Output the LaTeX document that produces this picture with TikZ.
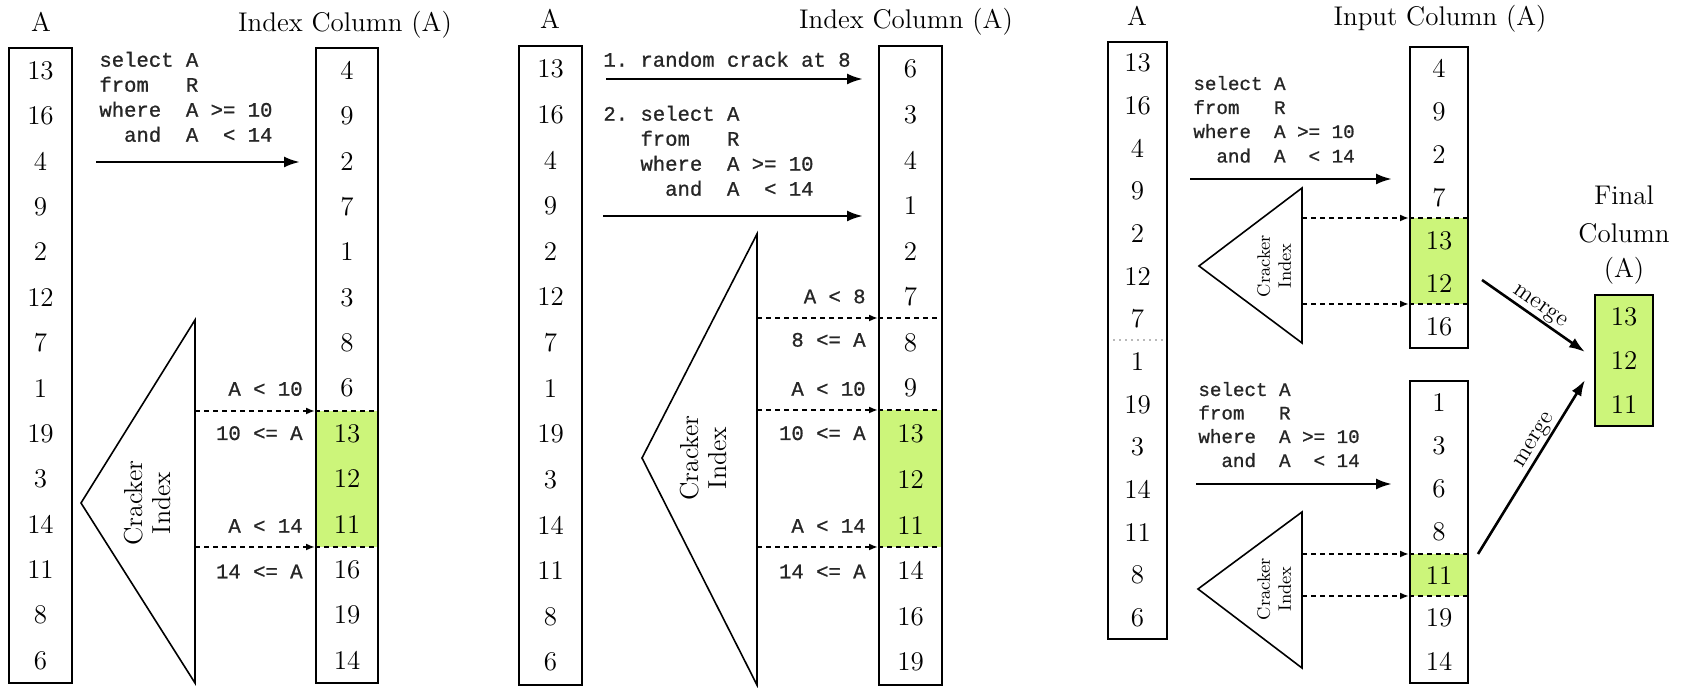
\documentclass[tikz,border=0pt]{standalone}
\usepackage{fontspec}
\newfontfamily\cour[FakeBold=0.9]{Liberation Mono}
\usetikzlibrary{arrows.meta}
\newcommand{\Sp}{\hbox to 0.6em{}}
\definecolor{hl}{HTML}{CCF57A}
\tikzset{
  col/.style={draw, line width=1pt, inner sep=0pt},
  num/.style={font=\fontsize{13.5}{16}\selectfont, inner sep=0pt},
  ttl/.style={font=\fontsize{13.5}{16}\selectfont, inner sep=0pt, anchor=base},
  sql/.style={font=\cour\fontsize{10.3}{12}\selectfont, text=black!85, anchor=base west, inner sep=0pt},
  sqls/.style={font=\cour\fontsize{9.6}{12}\selectfont, text=black!85, anchor=base west, inner sep=0pt},
  lbl/.style={font=\cour\fontsize{10.3}{12}\selectfont, text=black!85, anchor=base east, inner sep=0pt},
  arr/.style={line width=1.3pt, -{Latex[length=8pt,width=5.5pt]}},
  darr/.style={line width=0.9pt, dash pattern=on 2.5pt off 2pt, -{Latex[length=4.5pt,width=3.5pt]}},
  dline/.style={line width=0.9pt, dash pattern=on 2.5pt off 2pt},
  tri/.style={line width=0.8pt},
  crk/.style={rotate=90, align=center, inner sep=0pt, font=\fontsize{13}{14}\selectfont},
  crks/.style={rotate=90, align=center, inner sep=0pt, font=\fontsize{9}{10.5}\selectfont},
  mrg/.style={font=\fontsize{12}{14}\selectfont, inner sep=0.5pt, sloped},
}
\begin{document}
\begin{tikzpicture}[x=0.5pt,y=-0.5pt]
\useasboundingbox (0,0) rectangle (1683,688);

%% ================= Panel 1 =================
\node[ttl] (p1t) at (41,31.7) {A};
\node[ttl] (p1ti) at (345,31.7) {Index Column (A)};
\fill[hl] (316,411) rectangle (378,547);
\node[col, minimum width=31.5pt, minimum height=317.65pt] (p1a) at (40.5,365.35) {};
\foreach \v [count=\i from 0] in {13,16,4,9,2,12,7,1,19,3,14,11,8,6}
  \node[num] (p1a-\i) at (40.5,70.4+45.4*\i) {\v};
\foreach \v [count=\i from 0] in {4,9,2,7,1,3,8,6,13,12,11,16,19,14}
  \node[num] (p1i-\i) at (347,70.4+45.4*\i) {\v};
\node[sql] (p1q1) at (99,66.7) {select\Sp A};
\node[sql] (p1q2) at (99,91.7) {from\Sp\Sp\Sp R};
\node[sql] (p1q3) at (99,116.7) {where\Sp\Sp A\Sp>=\Sp 10};
\node[sql] (p1q4) at (99,141.7) {\Sp\Sp and\Sp\Sp A\Sp\Sp<\Sp 14};
\coordinate (p1s) at (96,162);
\coordinate (p1e) at (300,162);
\draw[arr] (p1s) -- (p1e);
\coordinate (p1ta) at (195,320);
\coordinate (p1tb) at (195,683);
\coordinate (p1tc) at (81,503);
\draw[tri] (p1ta) -- (p1tb) -- (p1tc) -- cycle;
\node[crk] (p1c) at (147,503) {Cracker\\Index};
\coordinate (p1d1) at (195,411);
\coordinate (p1d2) at (195,547);
\node[col, minimum width=31pt, minimum height=317.65pt] (p1i) at (347,365.35) {};
\draw[darr] (p1d1) -- (p1d1 -| p1i.west);
\draw[darr] (p1d2) -- (p1d2 -| p1i.west);
\draw[dline] (p1d1 -| p1i.west) -- (p1d1 -| p1i.east);
\draw[dline] (p1d2 -| p1i.west) -- (p1d2 -| p1i.east);
\node[lbl] (p1l1) at (303,395.7) {A\Sp<\Sp 10};
\node[lbl] (p1l2) at (303,440) {10\Sp<=\Sp A};
\node[lbl] (p1l3) at (303,532.7) {A\Sp<\Sp 14};
\node[lbl] (p1l4) at (303,578.3) {14\Sp<=\Sp A};

%% ================= Panel 2 =================
\node[ttl] (p2t) at (550,28.3) {A};
\node[ttl] (p2ti) at (906,28.3) {Index Column (A)};
\fill[hl] (879,410) rectangle (942,547);
\node[col, minimum width=31.5pt, minimum height=319.5pt] (p2a) at (550.5,365.5) {};
\node[col, minimum width=31.5pt, minimum height=319.5pt] (p2i) at (910.5,365.5) {};
\foreach \v [count=\i from 0] in {13,16,4,9,2,12,7,1,19,3,14,11,8,6}
  \node[num] (p2a-\i) at (550.5,68.8+45.64*\i) {\v};
\foreach \v [count=\i from 0] in {6,3,4,1,2,7,8,9,13,12,11,14,16,19}
  \node[num] (p2i-\i) at (910.5,68.8+45.64*\i) {\v};
\node[sql] (p2r) at (603,66.7) {1.\Sp random\Sp crack\Sp at\Sp 8};
\coordinate (p2s1) at (606,79);
\coordinate (p2e1) at (863,79);
\draw[arr] (p2s1) -- (p2e1);
\node[sql] (p2q1) at (603,120.7) {2.\Sp select\Sp A};
\node[sql] (p2q2) at (603,145.7) {\Sp\Sp\Sp from\Sp\Sp\Sp R};
\node[sql] (p2q3) at (603,170.7) {\Sp\Sp\Sp where\Sp\Sp A\Sp>=\Sp 10};
\node[sql] (p2q4) at (603,195.7) {\Sp\Sp\Sp\Sp\Sp and\Sp\Sp A\Sp\Sp<\Sp 14};
\coordinate (p2s2) at (603,216);
\coordinate (p2e2) at (863,216);
\draw[arr] (p2s2) -- (p2e2);
\coordinate (p2ta) at (757,234);
\coordinate (p2tb) at (757,685);
\coordinate (p2tc) at (642,458);
\draw[tri] (p2ta) -- (p2tb) -- (p2tc) -- cycle;
\node[crk] (p2c) at (703,458) {Cracker\\Index};
\coordinate (p2d0) at (757,318);
\coordinate (p2d1) at (757,410);
\coordinate (p2d2) at (757,547);
\foreach \d in {p2d0,p2d1,p2d2} {
  \draw[darr] (\d) -- (\d -| p2i.west);
  \draw[dline] (\d -| p2i.west) -- (\d -| p2i.east);
}
\node[lbl] (p2l0a) at (866,303.3) {A\Sp<\Sp 8};
\node[lbl] (p2l0b) at (866,346.7) {8\Sp<=\Sp A};
\node[lbl] (p2l1) at (866,395.7) {A\Sp<\Sp 10};
\node[lbl] (p2l2) at (866,440) {10\Sp<=\Sp A};
\node[lbl] (p2l3) at (866,532.7) {A\Sp<\Sp 14};
\node[lbl] (p2l4) at (866,578.3) {14\Sp<=\Sp A};

%% ================= Panel 3 =================
\node[ttl] (p3t) at (1137,26) {A};
\node[ttl] (p3ti) at (1440,26) {Input Column (A)};
\node[col, minimum width=29.5pt, minimum height=298.5pt] (p3a) at (1137.5,340.5) {};
\foreach \v [count=\i from 0] in {13,16,4,9,2,12,7,1,19,3,14,11,8,6}
  \node[num] (p3a-\i) at (1137.5,63.3+42.64*\i) {\v};
\draw[gray!55, line width=1pt, dotted] (1113,340) -- (1163,340);

% upper input column
\fill[hl] (1410,218) rectangle (1468,304);
\node[col, minimum width=29pt, minimum height=150.5pt] (p3u) at (1439,197.5) {};
\foreach \v [count=\i from 0] in {4,9,2,7,13,12,16}
  \node[num] (p3u-\i) at (1439,68.5+43*\i) {\v};
\node[sqls] (p3q1) at (1193,90) {select\Sp A};
\node[sqls] (p3q2) at (1193,114) {from\Sp\Sp\Sp R};
\node[sqls] (p3q3) at (1193,138) {where\Sp\Sp A\Sp>=\Sp 10};
\node[sqls] (p3q4) at (1193,162.5) {\Sp\Sp and\Sp\Sp A\Sp\Sp<\Sp 14};
\coordinate (p3s1) at (1190,179);
\coordinate (p3e1) at (1392,179);
\draw[arr] (p3s1) -- (p3e1);
\coordinate (p3ta) at (1302,188);
\coordinate (p3tb) at (1302,343);
\coordinate (p3tc) at (1199,266);
\draw[tri] (p3ta) -- (p3tb) -- (p3tc) -- cycle;
\node[crks] (p3c1) at (1274,266) {Cracker\\Index};
\coordinate (p3d1) at (1302,218);
\coordinate (p3d2) at (1302,304);
\foreach \d in {p3d1,p3d2} {
  \draw[darr] (\d) -- (\d -| p3u.west);
  \draw[dline] (\d -| p3u.west) -- (\d -| p3u.east);
}

% lower input column
\fill[hl] (1410,554) rectangle (1468,596);
\node[col, minimum width=29pt, minimum height=151pt] (p3l) at (1439,532) {};
\foreach \v [count=\i from 0] in {1,3,6,8,11,19,14}
  \node[num] (p3l-\i) at (1439,402.6+43.14*\i) {\v};
\node[sqls] (p3r1) at (1198,396) {select\Sp A};
\node[sqls] (p3r2) at (1198,419.5) {from\Sp\Sp\Sp R};
\node[sqls] (p3r3) at (1198,443) {where\Sp\Sp A\Sp>=\Sp 10};
\node[sqls] (p3r4) at (1198,467) {\Sp\Sp and\Sp\Sp A\Sp\Sp<\Sp 14};
\coordinate (p3s2) at (1196,484);
\coordinate (p3e2) at (1392,484);
\draw[arr] (p3s2) -- (p3e2);
\coordinate (p3la) at (1302,512);
\coordinate (p3lb) at (1302,668);
\coordinate (p3lc) at (1198,589);
\draw[tri] (p3la) -- (p3lb) -- (p3lc) -- cycle;
\node[crks] (p3c2) at (1274,589) {Cracker\\Index};
\coordinate (p3d3) at (1302,554);
\coordinate (p3d4) at (1302,596);
\foreach \d in {p3d3,p3d4} {
  \draw[darr] (\d) -- (\d -| p3l.west);
  \draw[dline] (\d -| p3l.west) -- (\d -| p3l.east);
}

% final column
\node[ttl] (f1) at (1624,205) {Final};
\node[ttl] (f2) at (1624,243) {Column};
\node[ttl] (f3) at (1624,278) {(A)};
\node[col, fill=hl, minimum width=29pt, minimum height=65.5pt] (fc) at (1624,360.5) {};
\foreach \v [count=\i from 0] in {13,12,11}
  \node[num] (fc-\i) at (1624,316.8+43.67*\i) {\v};

% merge arrows
\coordinate (m1s) at (1482,280);
\coordinate (m1e) at (1585,352);
\draw[arr] (m1s) -- node[mrg, above, pos=0.5] (m1l) {merge} (m1e);
\coordinate (m2s) at (1478,554);
\coordinate (m2e) at (1585,380);
\draw[arr] (m2s) -- node[mrg, above, pos=0.62] (m2l) {merge} (m2e);
\end{tikzpicture}
\end{document}
